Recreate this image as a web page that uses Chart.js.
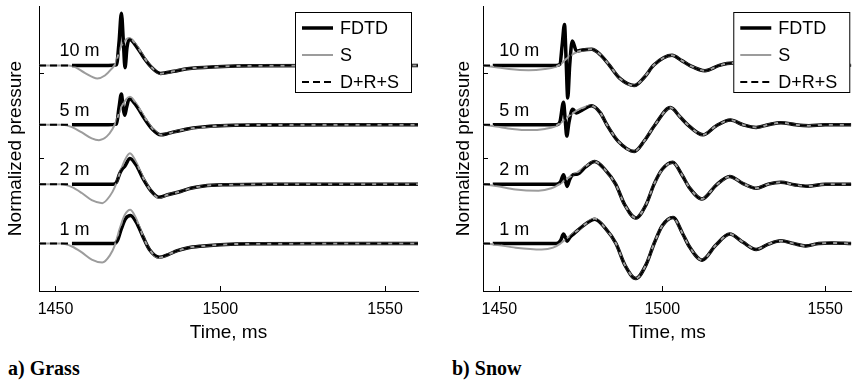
<!DOCTYPE html>
<html lang="en">
<head>
    <meta charset="UTF-8">
    <title>Normalized pressure: Grass / Snow</title>
    <script src="https://cdn.jsdelivr.net/npm/chart.js"></script>
    <style>
        body {
            margin: 0;
            background: #fff;
            width: 857px;
            height: 381px;
            position: relative;
            overflow: hidden;
        }
        .panel {
            position: absolute;
            top: 0;
        }
        .caption {
            position: absolute;
            top: 358px;
            font-family: 'Liberation Serif', 'Times New Roman', serif;
            font-weight: bold;
            font-size: 20px;
            line-height: 20px;
            color: #000;
        }
    </style>
</head>
<body>
    <div class="panel" style="left:0px"><canvas id="grassChart" width="430" height="348"></canvas></div>
    <div class="panel" style="left:430px"><canvas id="snowChart" width="427" height="348"></canvas></div>
    <div class="caption" style="left:8px">a) Grass</div>
    <div class="caption" style="left:452px">b) Snow</div>

    <script>
        // traces, top to bottom, and where each one sits on the y axis
        const distances = ['10 m', '5 m', '2 m', '1 m'];
        const baselines = [3.8, 2.8, 1.8, 0.8];
        const xTicks = [1450, 1500, 1550];
        const yTicks = [0.8, 2.23, 3.66];
        const seriesNames = ['FDTD', 'S', 'D+R+S'];

        // ---- a) Grass : [time ms, normalized pressure] ----
        const grassFdtd10 = [[1455,0],[1466,0],[1468.5,0.01],[1469.3,0.4],[1470,0.88],[1470.6,0.4],[1471.1,-0.04],[1471.7,0.3],[1472.4,0.44],[1474.8,0.3],[1476.8,0.13],[1479.3,-0.04],[1481.9,-0.135],[1485.9,-0.1],[1490,-0.056],[1499,-0.022],[1510,-0.005],[1560,0]];
        const grassS10 = [[1445,0],[1454,0],[1456,-0.03],[1459,-0.13],[1462.7,-0.22],[1465,-0.17],[1467,-0.06],[1468.3,0.04],[1469.5,0.27],[1470.8,0.4],[1472.4,0.46],[1474.8,0.32],[1476.8,0.14],[1479.3,-0.04],[1481.9,-0.14],[1485.9,-0.1],[1490,-0.056],[1499,-0.022],[1510,-0.005],[1560,0]];

        const grassFdtd5 = [[1455,0],[1466,0],[1468.5,0.01],[1469.3,0.3],[1470,0.52],[1470.5,0.3],[1471,0.16],[1471.6,0.3],[1472.4,0.44],[1474.8,0.3],[1476.8,0.12],[1479.3,-0.07],[1481.9,-0.17],[1484,-0.15],[1486,-0.12],[1490,-0.07],[1494,-0.04],[1500,-0.015],[1510,-0.004],[1560,0]];
        const grassS5 = [[1445,0],[1452,0],[1455,-0.04],[1458,-0.13],[1461,-0.23],[1463.2,-0.26],[1465.5,-0.2],[1467.3,-0.07],[1468.5,0.07],[1470,0.3],[1472.6,0.47],[1474.8,0.33],[1477,0.13],[1479.5,-0.07],[1482,-0.17],[1486,-0.12],[1490,-0.07],[1500,-0.015],[1510,-0.004],[1560,0]];

        const grassFdtd2 = [[1455,0],[1467.5,0],[1468.5,0.03],[1469.5,0.18],[1470.3,0.26],[1471,0.3],[1472.6,0.43],[1474.5,0.32],[1476.5,0.1],[1478.8,-0.1],[1481.3,-0.22],[1484,-0.18],[1488.2,-0.12],[1491,-0.07],[1495,-0.03],[1502,-0.01],[1515,0],[1560,0]];
        const grassS2 = [[1445,0],[1452,0],[1455,-0.05],[1458,-0.15],[1461,-0.27],[1464.2,-0.32],[1466.5,-0.2],[1468,-0.05],[1469.5,0.18],[1471,0.4],[1472.6,0.52],[1474.5,0.37],[1476.5,0.12],[1478.8,-0.1],[1481.3,-0.23],[1484,-0.18],[1488.2,-0.12],[1491,-0.07],[1495,-0.03],[1502,-0.01],[1515,0],[1560,0]];

        const grassFdtd1 = [[1455,0],[1467.8,0],[1468.8,0.05],[1470,0.25],[1471.3,0.42],[1472.8,0.47],[1474.5,0.36],[1476.5,0.12],[1478.5,-0.1],[1481.5,-0.23],[1484,-0.19],[1487,-0.12],[1490,-0.075],[1494,-0.045],[1500,-0.02],[1510,-0.005],[1560,0]];
        const grassS1 = [[1445,0],[1452,0],[1455,-0.05],[1458,-0.15],[1461,-0.27],[1464.2,-0.32],[1466.5,-0.2],[1468,-0.03],[1469.5,0.25],[1471,0.48],[1472.7,0.57],[1474.5,0.42],[1476.5,0.13],[1478.5,-0.1],[1481.5,-0.24],[1484,-0.19],[1487,-0.12],[1490,-0.075],[1494,-0.045],[1500,-0.02],[1510,-0.005],[1560,0]];

        // ---- b) Snow ----
        const snowFdtd10 = [[1448,0],[1467.5,0],[1468.6,0.02],[1469.3,0.35],[1470,0.69],[1470.5,0.1],[1471,-0.55],[1471.6,0],[1472.4,0.41],[1473.7,0.24],[1475.5,0.26],[1478.3,0.27],[1481,0.18],[1483.8,0],[1487,-0.22],[1491.4,-0.34],[1494.5,-0.2],[1497.5,0.01],[1503,0.17],[1506,0.08],[1508.4,0],[1513.1,-0.09],[1517.5,0],[1521.7,0.04],[1525,0.01],[1529,-0.03],[1536,0.02],[1544,-0.01],[1558,0]];
        const snowS10 = [[1445,0],[1449,-0.03],[1453,-0.06],[1459,-0.08],[1464,-0.06],[1467,-0.03],[1469,0.03],[1471.2,0.14],[1474,0.23],[1478.3,0.27],[1481,0.18],[1483.8,0],[1487,-0.22],[1491.4,-0.34],[1494.5,-0.2],[1497.5,0.01],[1503,0.17],[1506,0.08],[1508.4,0],[1513.1,-0.09],[1517.5,0],[1521.7,0.04],[1525,0.01],[1529,-0.03],[1536,0.02],[1544,-0.01],[1558,0]];

        const snowFdtd5 = [[1448,0],[1467.5,0],[1468.6,0.05],[1469.7,0.38],[1470.2,0.1],[1470.7,-0.19],[1471.4,0.05],[1472.5,0.26],[1473.7,0.2],[1475.5,0.25],[1478.3,0.32],[1481,0.2],[1483,0],[1486.5,-0.28],[1491.4,-0.45],[1494.5,-0.27],[1497.8,0],[1502.5,0.29],[1505.5,0.13],[1508,-0.01],[1512.5,-0.17],[1516.5,-0.02],[1520.9,0.08],[1524.8,0],[1528.8,-0.045],[1532.5,0],[1536.4,0.035],[1541,0],[1545,-0.015],[1550,0],[1558,0]];
        const snowS5 = [[1445,0],[1449,-0.03],[1454,-0.07],[1459,-0.09],[1464,-0.07],[1467,-0.03],[1469,0.04],[1471,0.13],[1473.5,0.23],[1478.3,0.32],[1481,0.2],[1483,0],[1486.5,-0.28],[1491.4,-0.45],[1494.5,-0.27],[1497.8,0],[1502.5,0.29],[1505.5,0.13],[1508,-0.01],[1512.5,-0.17],[1516.5,-0.02],[1520.9,0.08],[1524.8,0],[1528.8,-0.045],[1532.5,0],[1536.4,0.035],[1541,0],[1545,-0.015],[1550,0],[1558,0]];

        const snowFdtd2 = [[1448,0],[1467.5,0],[1468.8,0.04],[1469.7,0.16],[1470.2,0.08],[1470.8,-0.04],[1471.6,0.08],[1472.7,0.16],[1474,0.17],[1476.5,0.29],[1479.3,0.38],[1482.5,0.24],[1485.7,0],[1488.5,-0.35],[1491.9,-0.57],[1495,-0.35],[1497.5,0],[1500,0.25],[1503.2,0.37],[1506.2,0.14],[1508.2,-0.05],[1512.2,-0.25],[1516.5,-0.02],[1520.7,0.13],[1524.8,0.01],[1528.8,-0.07],[1532.5,0],[1536.4,0.03],[1540.5,-0.01],[1544.5,-0.035],[1550,0],[1558,0]];
        const snowS2 = [[1445,0],[1449,-0.03],[1455,-0.09],[1462,-0.11],[1466,-0.07],[1468.5,0],[1471,0.1],[1474,0.2],[1476.5,0.3],[1479.3,0.38],[1482.5,0.24],[1485.7,0],[1488.5,-0.35],[1491.9,-0.57],[1495,-0.35],[1497.5,0],[1500,0.25],[1503.2,0.37],[1506.2,0.14],[1508.2,-0.05],[1512.2,-0.25],[1516.5,-0.02],[1520.7,0.13],[1524.8,0.01],[1528.8,-0.07],[1532.5,0],[1536.4,0.03],[1540.5,-0.01],[1544.5,-0.035],[1550,0],[1558,0]];

        const snowFdtd1 = [[1448,0],[1467.5,0],[1468.8,0.05],[1469.7,0.16],[1470.3,0.1],[1470.8,0.04],[1471.6,0.1],[1473,0.17],[1476.5,0.33],[1479.3,0.41],[1482.5,0.26],[1485.8,0],[1488.5,-0.36],[1491.9,-0.59],[1495,-0.36],[1497.5,0],[1500,0.3],[1503.3,0.44],[1506.3,0.16],[1508.4,-0.06],[1512.2,-0.28],[1516.4,-0.03],[1520.7,0.16],[1524.8,0.02],[1528.8,-0.1],[1532.6,-0.01],[1536.4,0.045],[1540.3,0],[1544,-0.04],[1548,0],[1552,0.01],[1558,0]];
        const snowS1 = [[1445,0],[1449,-0.02],[1455,-0.07],[1463,-0.1],[1466.5,-0.07],[1468.5,-0.01],[1471,0.1],[1474,0.22],[1476.5,0.33],[1479.3,0.42],[1482.5,0.26],[1485.8,0],[1488.5,-0.36],[1491.9,-0.59],[1495,-0.36],[1497.5,0],[1500,0.3],[1503.3,0.44],[1506.3,0.16],[1508.4,-0.06],[1512.2,-0.28],[1516.4,-0.03],[1520.7,0.16],[1524.8,0.02],[1528.8,-0.1],[1532.6,-0.01],[1536.4,0.045],[1540.3,0],[1544,-0.04],[1548,0],[1552,0.01],[1558,0]];

        const grassFdtd = [grassFdtd10, grassFdtd5, grassFdtd2, grassFdtd1];
        const grassS = [grassS10, grassS5, grassS2, grassS1];
        const snowFdtd = [snowFdtd10, snowFdtd5, snowFdtd2, snowFdtd1];
        const snowS = [snowS10, snowS5, snowS2, snowS1];

        Chart.defaults.font.family = "'Liberation Sans', Arial, sans-serif";
        Chart.defaults.color = '#000';

        const GRAY = '#9c9c9c';
        const DASH = [7, 4];

        function buildDatasets(fdtd, s, xMin) {
            const sets = [];
            baselines.forEach((base, i) => {
                const toXY = arr => arr.map(p => ({ x: p[0], y: base + p[1] }));
                // D+R+S lies on FDTD, but is drawn from the start of the axis
                const drs = [[xMin, 0]].concat(fdtd[i]);
                sets.push({ label: seriesNames[2], data: toXY(drs), borderColor: '#000', borderWidth: 2, borderDash: DASH, order: 0 });
                sets.push({ label: seriesNames[1], data: toXY(s[i]), borderColor: GRAY, borderWidth: 2, order: 1 });
                sets.push({ label: seriesNames[0], data: toXY(fdtd[i]), borderColor: '#000', borderWidth: 3.5, order: 2 });
            });
            return sets;
        }

        const overlayPlugin = {
            id: 'overlay',
            afterDraw(chart, args, opts) {
                const ctx = chart.ctx;
                const xs = chart.scales.x, ys = chart.scales.y;
                ctx.save();
                // distance labels above each trace
                ctx.fillStyle = '#000';
                ctx.font = "18px 'Liberation Sans', Arial, sans-serif";
                ctx.textAlign = 'left';
                ctx.textBaseline = 'alphabetic';
                distances.forEach((d, i) => {
                    ctx.fillText(d, xs.getPixelForValue(opts.labelTime), ys.getPixelForValue(baselines[i]) - 9);
                });
                // boxed legend in the top right corner
                const w = 117, h = 81;
                const left = chart.chartArea.right - opts.legendGap - w;
                const top = 12;
                ctx.fillStyle = '#fff';
                ctx.fillRect(left, top, w, h);
                ctx.strokeStyle = '#000';
                ctx.lineWidth = 1;
                ctx.strokeRect(left + 0.5, top + 0.5, w - 1, h - 1);
                const rows = [
                    { color: '#000', width: 3.5, dash: [] },
                    { color: GRAY, width: 2, dash: [] },
                    { color: '#000', width: 2, dash: DASH }
                ];
                rows.forEach((r, i) => {
                    const y = top + 16 + i * 27;
                    ctx.beginPath();
                    ctx.setLineDash(r.dash);
                    ctx.strokeStyle = r.color;
                    ctx.lineWidth = r.width;
                    ctx.moveTo(left + 7, y);
                    ctx.lineTo(left + 38, y);
                    ctx.stroke();
                    ctx.setLineDash([]);
                    ctx.fillStyle = '#000';
                    ctx.textBaseline = 'middle';
                    ctx.fillText(seriesNames[i], left + 45, y + 1);
                });
                ctx.restore();
            }
        };

        const config = (fdtd, s, xMin, xMax, axisWidth, padLeft, padRight, legendGap, labelTime) => ({
            type: 'line',
            data: { datasets: buildDatasets(fdtd, s, xMin) },
            options: {
                responsive: false,
                animation: false,
                devicePixelRatio: 1,
                layout: { padding: { top: 6, left: padLeft, right: padRight, bottom: 0 } },
                elements: {
                    point: { radius: 0 },
                    line: { cubicInterpolationMode: 'monotone', fill: false }
                },
                plugins: {
                    legend: { display: false },
                    tooltip: { enabled: false },
                    overlay: { legendGap: legendGap, labelTime: labelTime }
                },
                scales: {
                    x: {
                        type: 'linear',
                        min: xMin,
                        max: xMax,
                        border: { color: '#000', width: 1 },
                        grid: { drawOnChartArea: false, color: '#000', tickLength: -5 },
                        ticks: { font: { size: 16 }, padding: 14, maxRotation: 0, callback: v => String(v) },
                        title: { display: true, text: 'Time, ms', font: { size: 19 }, padding: 4 },
                        afterBuildTicks: sc => { sc.ticks = xTicks.map(v => ({ value: v })); },
                        afterFit: sc => { sc.height = 57; }
                    },
                    y: {
                        type: 'linear',
                        min: 0,
                        max: 4.8,
                        border: { color: '#000', width: 1 },
                        grid: { drawOnChartArea: false, color: '#000', tickLength: -5 },
                        ticks: { display: false },
                        title: { display: true, text: 'Normalized pressure', font: { size: 19 }, padding: 4 },
                        afterBuildTicks: sc => { sc.ticks = yTicks.map(v => ({ value: v })); },
                        afterFit: sc => { sc.width = axisWidth; }
                    }
                }
            },
            plugins: [overlayPlugin]
        });

        const grassChart = new Chart(
            document.getElementById('grassChart'),
            config(grassFdtd, grassS, 1445, 1560, 39, 0, 12, 6, 1451.2)
        );

        const snowChart = new Chart(
            document.getElementById('snowChart'),
            config(snowFdtd, snowS, 1445, 1558, 35, 18, 0, 1, 1450)
        );
    </script>
</body>
</html>
